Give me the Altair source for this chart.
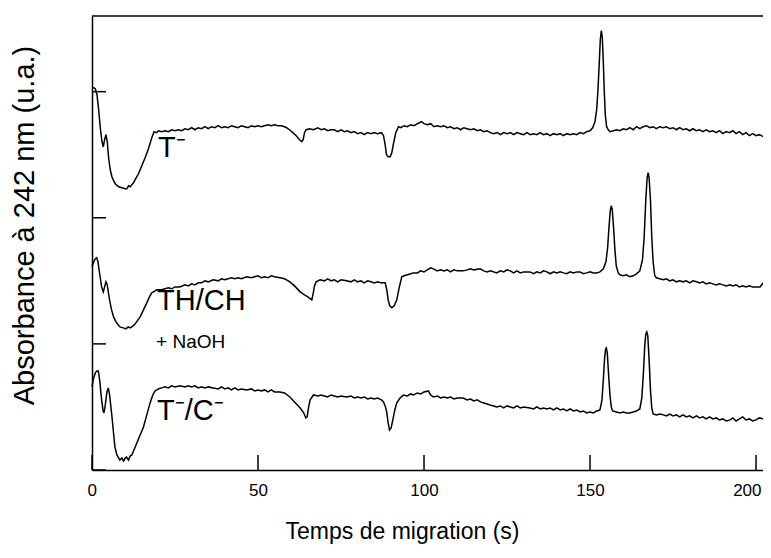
import altair as alt
import pandas as pd

# ---- trace 1 : T-  (top) ----
t1 = [0, 0.5, 1.0, 1.5, 2.0, 2.5, 3.0, 3.4, 3.8, 4.2, 4.6, 5.0, 5.5, 6.0, 6.5, 7.0, 8.0, 9.0, 10.0, 10.5,
      11.0, 11.5, 12.0, 12.5, 13.0, 14.0, 15.0, 16.0, 17.0, 18.0, 18.7, 19.5, 20, 21, 22, 23, 24, 25, 26, 27,
      28, 29, 30, 31, 32, 33, 34, 35, 36, 37, 38, 39, 40, 41, 42, 43, 44, 45, 46, 47,
      48, 49, 50, 51, 52, 53, 54, 55, 56, 57, 58, 58.6, 59.5, 60.5, 61.5, 62.5, 63.2, 63.6, 64.0, 64.5,
      65.5, 66.7, 68, 69, 70, 71, 72, 73, 74, 75, 76, 77, 78, 79, 80, 81, 82, 83, 84, 85,
      86, 87.2, 87.8, 88.3, 88.7, 89.2, 89.8, 90.3, 90.8, 91.5, 92.3, 93, 94, 95, 96, 97, 98, 99.3, 100, 101,
      102, 103, 104, 105, 106, 107, 108, 109, 110, 111, 112, 113, 114, 115, 116, 117, 118, 119, 120, 121,
      122, 123, 124, 125, 126, 127, 128, 129, 130, 131, 132, 133, 134, 135, 136, 137, 138, 139, 140, 141,
      142, 143, 144, 145, 146, 147, 148, 149, 150, 150.8, 151.5, 152.0, 152.4, 152.8, 153.1, 153.4, 153.7, 154.0, 154.3, 154.6,
      155.0, 155.5, 156, 157, 158, 159, 160, 161, 162, 163, 164, 165, 166, 167, 168, 169, 170, 171, 172, 173,
      174, 175, 176, 177, 178, 179, 180, 181, 182, 183, 184, 185, 186, 187, 188, 189, 190, 191, 192, 193,
      194, 195, 196, 197, 198, 199, 200, 201, 202.2, 203, 204, 204.5]
v1 = [3.032, 3.032, 3.024, 2.976, 2.857, 2.714, 2.603, 2.563, 2.619, 2.659, 2.603, 2.476, 2.381, 2.325, 2.294, 2.270, 2.246, 2.238, 2.230, 2.230,
      2.254, 2.246, 2.262, 2.278, 2.302, 2.349, 2.413, 2.476, 2.548, 2.635, 2.683, 2.675, 2.690, 2.683, 2.690, 2.683, 2.698, 2.690, 2.698, 2.690,
      2.706, 2.698, 2.714, 2.698, 2.714, 2.706, 2.722, 2.706, 2.722, 2.714, 2.730, 2.714, 2.722, 2.714, 2.730, 2.722, 2.714, 2.730, 2.722, 2.714,
      2.730, 2.722, 2.730, 2.722, 2.730, 2.738, 2.730, 2.738, 2.730, 2.730, 2.722, 2.714, 2.698, 2.675, 2.651, 2.619, 2.603, 2.619, 2.675, 2.698,
      2.706, 2.698, 2.714, 2.698, 2.706, 2.690, 2.698, 2.698, 2.683, 2.698, 2.683, 2.690, 2.675, 2.683, 2.667, 2.675, 2.659, 2.675, 2.667, 2.675,
      2.667, 2.675, 2.651, 2.579, 2.500, 2.484, 2.484, 2.516, 2.587, 2.675, 2.722, 2.714, 2.730, 2.722, 2.738, 2.730, 2.746, 2.762, 2.746, 2.738,
      2.746, 2.722, 2.730, 2.722, 2.730, 2.714, 2.722, 2.706, 2.714, 2.698, 2.714, 2.706, 2.698, 2.706, 2.690, 2.698, 2.683, 2.690, 2.675, 2.667,
      2.675, 2.659, 2.675, 2.667, 2.675, 2.659, 2.675, 2.667, 2.659, 2.675, 2.659, 2.667, 2.659, 2.675, 2.659, 2.667, 2.651, 2.667, 2.659, 2.667,
      2.651, 2.667, 2.659, 2.667, 2.659, 2.675, 2.667, 2.683, 2.690, 2.714, 2.762, 2.857, 3.016, 3.238, 3.413, 3.484, 3.429, 3.238, 3.000, 2.817,
      2.722, 2.698, 2.683, 2.690, 2.698, 2.690, 2.706, 2.698, 2.714, 2.698, 2.722, 2.706, 2.722, 2.730, 2.714, 2.722, 2.706, 2.722, 2.714, 2.722,
      2.706, 2.714, 2.698, 2.714, 2.698, 2.706, 2.690, 2.706, 2.690, 2.698, 2.683, 2.698, 2.683, 2.690, 2.675, 2.690, 2.667, 2.683, 2.675, 2.690,
      2.667, 2.683, 2.659, 2.675, 2.651, 2.667, 2.651, 2.659, 2.643, 2.675, 2.667, 2.659]

# ---- trace 2 : TH/CH + NaOH (middle) ----
t2 = [0, 0.5, 1.0, 1.4, 1.8, 2.3, 2.9, 3.4, 3.8, 4.2, 4.6, 4.9, 5.4, 5.9, 6.5, 7.4, 8.4, 9.4, 10.2, 10.9,
      11.5, 12.4, 13.0, 14.5, 15.5, 16.5, 17.3, 18.0, 19.0, 19.5, 21, 22, 23, 24, 25, 26.5, 28, 29, 30, 31,
      32, 33, 34, 35, 36.5, 38, 39, 40, 42, 43, 44, 45, 46.6, 48, 49, 50, 51, 52, 53, 54,
      55, 56.6, 58, 59.6, 61, 62.7, 64, 65, 66.2, 66.6, 67.0, 67.5, 68.7, 70, 71, 72, 73, 74, 75, 76.7,
      78, 79, 80, 81, 82, 83, 84, 85, 86, 87, 88.3, 88.8, 89.2, 89.7, 90.3, 91.0, 91.8, 92.5, 93.3, 94,
      95, 96, 96.8, 98, 99, 100, 101, 102, 102.8, 104, 105, 106, 107, 108, 109, 110, 111.8, 113, 114, 115,
      116.9, 118, 119, 120, 121.9, 123, 124, 125, 126, 127, 128, 129, 130, 131.9, 133, 134, 135, 136, 137, 138,
      139, 140, 141, 142, 143, 144, 145, 146, 147, 148, 149, 150, 151, 152, 153, 154, 154.8, 155.3, 155.7, 156.1,
      156.4, 156.7, 157.1, 157.5, 157.9, 158.5, 159, 160, 161, 162, 163, 164, 165, 165.8, 166.3, 166.8, 167.2, 167.5, 167.8, 168.2,
      168.6, 169.0, 169.5, 170, 171, 172.1, 173, 174, 175, 176, 177, 178, 179, 180, 181, 182.1, 183, 184, 185, 186,
      187, 188, 189, 190, 191, 192.2, 193, 194, 195, 196, 197, 198, 199, 200, 201.2, 202.2, 203, 204, 204.5]
v2 = [1.611, 1.651, 1.675, 1.683, 1.651, 1.556, 1.452, 1.413, 1.452, 1.492, 1.468, 1.413, 1.333, 1.270, 1.214, 1.167, 1.135, 1.127, 1.119, 1.135,
      1.127, 1.143, 1.159, 1.214, 1.270, 1.325, 1.373, 1.405, 1.421, 1.429, 1.429, 1.437, 1.444, 1.437, 1.452, 1.452, 1.468, 1.460, 1.476, 1.468,
      1.484, 1.484, 1.500, 1.492, 1.508, 1.500, 1.516, 1.508, 1.524, 1.516, 1.524, 1.516, 1.532, 1.524, 1.532, 1.540, 1.524, 1.532, 1.524, 1.540,
      1.532, 1.524, 1.516, 1.492, 1.460, 1.413, 1.389, 1.373, 1.349, 1.397, 1.460, 1.492, 1.508, 1.500, 1.516, 1.500, 1.508, 1.492, 1.508, 1.500,
      1.492, 1.508, 1.492, 1.500, 1.484, 1.500, 1.492, 1.484, 1.492, 1.484, 1.484, 1.429, 1.349, 1.302, 1.286, 1.302, 1.349, 1.444, 1.532, 1.540,
      1.548, 1.556, 1.563, 1.563, 1.579, 1.571, 1.587, 1.603, 1.595, 1.579, 1.587, 1.579, 1.587, 1.571, 1.587, 1.579, 1.579, 1.587, 1.595, 1.587,
      1.595, 1.579, 1.571, 1.579, 1.563, 1.579, 1.571, 1.587, 1.579, 1.563, 1.579, 1.563, 1.571, 1.571, 1.556, 1.571, 1.563, 1.579, 1.571, 1.556,
      1.571, 1.563, 1.571, 1.563, 1.556, 1.571, 1.563, 1.571, 1.571, 1.556, 1.563, 1.571, 1.563, 1.563, 1.571, 1.595, 1.651, 1.762, 1.921, 2.056,
      2.095, 2.063, 1.921, 1.746, 1.619, 1.563, 1.548, 1.540, 1.548, 1.532, 1.540, 1.556, 1.579, 1.667, 1.841, 2.143, 2.317, 2.357, 2.317, 2.143,
      1.841, 1.651, 1.540, 1.524, 1.516, 1.508, 1.516, 1.500, 1.508, 1.492, 1.500, 1.492, 1.500, 1.484, 1.500, 1.492, 1.484, 1.492, 1.476, 1.484,
      1.476, 1.468, 1.476, 1.468, 1.460, 1.468, 1.460, 1.468, 1.452, 1.460, 1.452, 1.460, 1.452, 1.452, 1.452, 1.484, 1.468, 1.452, 1.452]

# ---- trace 3 : T-/C-  (bottom) ----
t3 = [0, 0.5, 1.0, 1.5, 1.9, 2.3, 2.9, 3.3, 3.6, 4.0, 4.5, 4.9, 5.3, 5.9, 6.4, 6.9, 7.5, 8.4, 9.0, 9.5,
      10.0, 10.4, 11.0, 11.5, 12.0, 12.5, 13.5, 14.5, 15.5, 16.5, 17.5, 18.3, 19.0, 20, 21, 22, 23, 24, 25, 26.5,
      28, 29, 30, 31, 32, 33, 34, 35, 36.5, 38, 39, 40, 41, 42, 43, 44, 45, 46.6, 48, 49,
      50, 51, 52, 53, 54, 55, 56.6, 58, 59.6, 61, 62.7, 63.8, 64.4, 64.8, 65.2, 65.7, 66.7, 68, 69, 70,
      71, 72, 73, 74, 75, 76.7, 78, 79, 80, 81, 82, 83, 84, 85, 86, 87.2, 87.8, 88.4, 88.8, 89.2,
      89.6, 90.1, 90.6, 91.2, 91.8, 92.8, 93.8, 95, 96, 96.8, 98, 99, 100, 101.3, 102, 102.8, 104, 105, 106, 107,
      108, 109, 110, 111.8, 113, 114, 115, 116, 117, 118, 119, 119.9, 121, 121.9, 123, 124, 125, 126, 127, 128,
      129, 130, 131.9, 133, 134, 135, 136, 137, 138, 139, 140, 141, 142, 143, 144, 145, 146, 147, 148, 149,
      150, 151, 152, 153, 153.6, 154.0, 154.4, 154.7, 154.9, 155.2, 155.6, 156.0, 156.4, 156.8, 158, 159, 160, 161, 162, 163,
      164, 165, 165.6, 166.1, 166.5, 166.8, 167.1, 167.4, 167.8, 168.2, 168.6, 169.0, 170, 171, 172.1, 173, 174, 175, 176, 177,
      178, 179, 180, 181, 182.1, 183, 184, 185, 186, 187, 188, 189, 190, 191, 192.2, 193, 194, 195, 196, 197,
      198, 199, 200, 201, 202.2, 203, 204, 204.5]
v3 = [0.659, 0.730, 0.770, 0.786, 0.786, 0.714, 0.556, 0.476, 0.452, 0.516, 0.619, 0.651, 0.595, 0.452, 0.317, 0.183, 0.119, 0.079, 0.095, 0.071,
      0.095, 0.103, 0.079, 0.111, 0.119, 0.151, 0.214, 0.278, 0.341, 0.437, 0.532, 0.595, 0.627, 0.643, 0.651, 0.659, 0.651, 0.667, 0.659, 0.667,
      0.659, 0.667, 0.659, 0.667, 0.651, 0.659, 0.651, 0.659, 0.651, 0.643, 0.659, 0.643, 0.651, 0.635, 0.651, 0.635, 0.643, 0.635, 0.643, 0.627,
      0.635, 0.627, 0.635, 0.619, 0.635, 0.619, 0.619, 0.611, 0.579, 0.540, 0.492, 0.452, 0.413, 0.421, 0.492, 0.556, 0.595, 0.587, 0.595, 0.587,
      0.579, 0.595, 0.587, 0.579, 0.587, 0.579, 0.587, 0.571, 0.579, 0.571, 0.579, 0.563, 0.571, 0.563, 0.571, 0.556, 0.540, 0.500, 0.452, 0.373,
      0.317, 0.333, 0.397, 0.476, 0.532, 0.571, 0.595, 0.587, 0.603, 0.595, 0.611, 0.603, 0.619, 0.627, 0.595, 0.579, 0.587, 0.571, 0.579, 0.571,
      0.579, 0.563, 0.571, 0.571, 0.556, 0.563, 0.548, 0.556, 0.540, 0.532, 0.524, 0.516, 0.508, 0.500, 0.508, 0.492, 0.508, 0.500, 0.492, 0.508,
      0.492, 0.500, 0.492, 0.484, 0.500, 0.484, 0.492, 0.484, 0.492, 0.476, 0.492, 0.476, 0.484, 0.468, 0.484, 0.468, 0.476, 0.460, 0.468, 0.452,
      0.460, 0.452, 0.468, 0.476, 0.556, 0.714, 0.889, 0.960, 0.968, 0.929, 0.754, 0.595, 0.500, 0.468, 0.460, 0.452, 0.460, 0.452, 0.452, 0.460,
      0.468, 0.484, 0.571, 0.778, 0.992, 1.079, 1.095, 1.063, 0.873, 0.635, 0.492, 0.444, 0.437, 0.444, 0.437, 0.429, 0.444, 0.429, 0.437, 0.421,
      0.437, 0.421, 0.429, 0.413, 0.429, 0.413, 0.421, 0.405, 0.421, 0.405, 0.413, 0.397, 0.405, 0.389, 0.397, 0.413, 0.389, 0.405, 0.421, 0.397,
      0.405, 0.389, 0.397, 0.413, 0.405, 0.421, 0.413, 0.413]

trace_names = ["T-", "TH/CH", "T-/C-"]

x_ticks = [0, 50, 100, 150, 200]
y_ticks = [0, 1, 2, 3]

labels_big = ["T\u207b", "TH/CH", "T\u207b/C\u207b"]
labels_big_t = [19.9, 19.6, 19.6]
labels_big_v = [2.55, 1.34, 0.47]
labels_small = ["+ NaOH"]
labels_small_t = [19.3]
labels_small_v = [1.016]

frames = []
for name, tt, vv in zip(trace_names, [t1, t2, t3], [v1, v2, v3]):
    frames.append(pd.DataFrame({"t": tt, "v": vv, "trace": name}))
df = pd.concat(frames, ignore_index=True)

W, H = 671, 454
FONT = "Liberation Sans"

xscale = alt.Scale(domain=[0, 202.1], nice=False, zero=False)
yscale = alt.Scale(domain=[0, 3.6], nice=False, zero=False)

xaxis = alt.Axis(values=x_ticks, ticks=False, labelPadding=12, labelFontSize=17,
                 labelFlush=10, labelFlushOffset=5,
                 labelColor="black", labelFont=FONT, domainColor="black", domainWidth=1.5,
                 grid=False, title="Temps de migration (s)", titleFontSize=23,
                 titleFontWeight="normal", titleFont=FONT, titleColor="black",
                 titleX=310, titleY=68, titleAlign="center", titleBaseline="alphabetic")
yaxis = alt.Axis(values=y_ticks, ticks=False, labels=False, domainColor="black",
                 domainWidth=1.5, grid=False, title="Absorbance à 242 nm (u.a.)",
                 titleFontSize=29, titleFontWeight="normal", titleFont=FONT, titleColor="black",
                 titleX=-68, titleY=209, titleAngle=270, titleAlign="center", titleBaseline="middle")

lines = alt.Chart(df).mark_line(color="black", strokeWidth=1.5).encode(
    x=alt.X("t:Q", scale=xscale, axis=xaxis),
    y=alt.Y("v:Q", scale=yscale, axis=yaxis),
    detail="trace:N",
    order="t:Q",
)

xt = alt.Chart(pd.DataFrame({"t": x_ticks})).mark_rule(color="black", strokeWidth=1.5).encode(
    x=alt.X("t:Q", scale=xscale, axis=xaxis), y=alt.value(H), y2=alt.value(H - 15))
yt = alt.Chart(pd.DataFrame({"v": y_ticks})).mark_rule(color="black", strokeWidth=1.5).encode(
    y=alt.Y("v:Q", scale=yscale, axis=yaxis), x=alt.value(0), x2=alt.value(14))
top = alt.Chart(pd.DataFrame({"a": [0]})).mark_rule(color="black", strokeWidth=1.5).encode(
    x=alt.value(0), x2=alt.value(W), y=alt.value(0))

big = alt.Chart(pd.DataFrame({"t": labels_big_t, "v": labels_big_v, "lab": labels_big})).mark_text(
    align="left", baseline="middle", fontSize=29, font=FONT, color="black").encode(
    x=alt.X("t:Q", scale=xscale, axis=xaxis), y=alt.Y("v:Q", scale=yscale, axis=yaxis), text="lab:N")
small = alt.Chart(pd.DataFrame({"t": labels_small_t, "v": labels_small_v, "lab": labels_small})).mark_text(
    align="left", baseline="middle", fontSize=19, font=FONT, color="black").encode(
    x=alt.X("t:Q", scale=xscale, axis=xaxis), y=alt.Y("v:Q", scale=yscale, axis=yaxis), text="lab:N")

chart = alt.layer(lines, xt, yt, top, big, small).properties(
    width=W, height=H,
    autosize=alt.AutoSizeParams(type="none"),
    padding={"left": 84, "top": 8, "right": 0, "bottom": 74},
).configure_view(stroke=None)

chart.save("out.html", embed_options={"renderer": "svg", "actions": False})
